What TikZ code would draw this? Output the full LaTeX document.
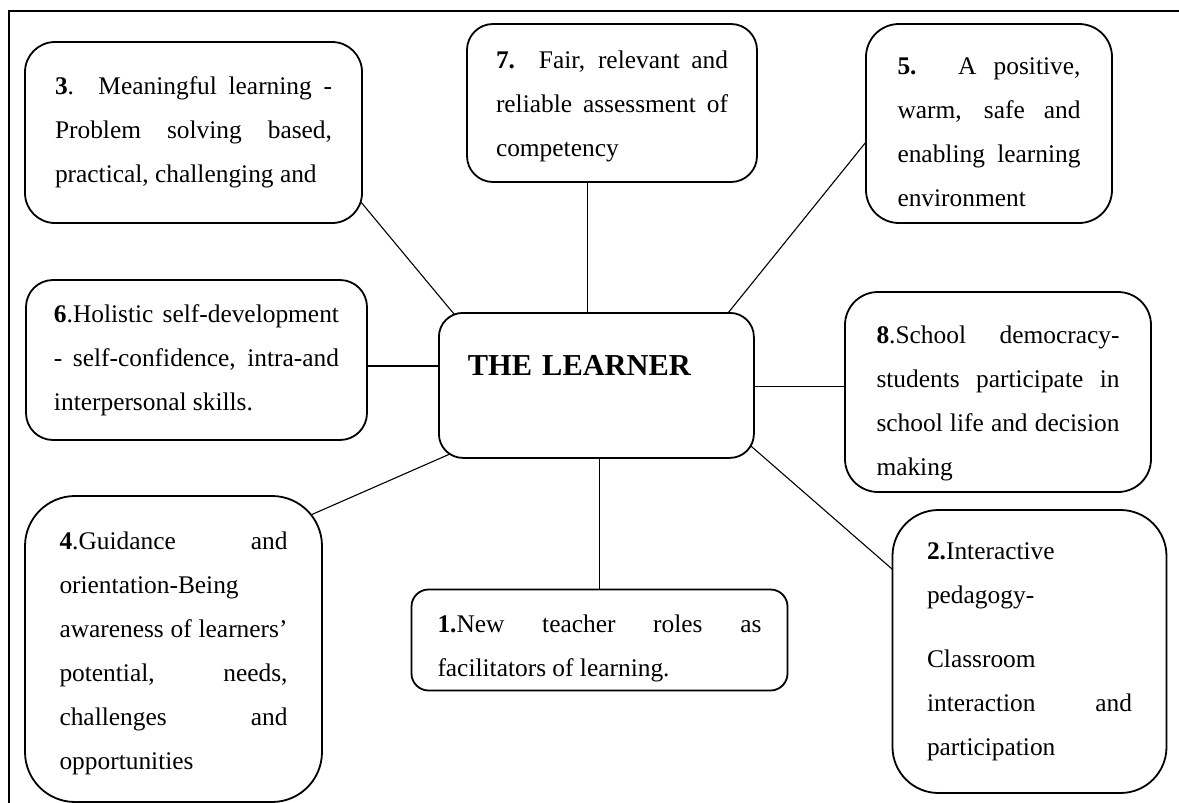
\documentclass[tikz,border=0pt]{standalone}
\usepackage{fontspec}
\setmainfont{Liberation Serif}
\usetikzlibrary{backgrounds}

\setlength{\parindent}{0pt}
\hyphenpenalty=10000
\exhyphenpenalty=10000

% strut that pushes a box's text down a little
\newcommand{\lowtext}[1]{\rule{0pt}{#1}}

\tikzset{
  box/.style={draw, line width=0.9pt, fill=white, align=justify,
    inner xsep=0pt, inner ysep=0pt, font=\fontsize{12.7}{22}\selectfont},
  link/.style={line width=0.55pt, shorten <=-6pt, shorten >=-6pt}
}

\begin{document}
\begin{tikzpicture}[x=0.5pt, y=-0.5pt]

  \useasboundingbox (0,0) rectangle (1179,803);

  % Page frame
  \draw[line width=0.7pt] (1179,11) -- (9,11) -- (9,803);

  % Centre
  \node[draw, line width=0.9pt, fill=white, rounded corners=12pt, anchor=north west,
    text width=128.5pt, inner xsep=14.5pt, inner ysep=0pt, text height=31.5pt,
    text depth=41pt, align=left, font=\fontsize{15.2}{18}\bfseries] (learner) at (438,312) {THE LEARNER};

  % Boxes round the centre
  \node[box, rounded corners=15pt, minimum width=168.5pt, minimum height=90.5pt, text width=138.5pt] (meaning) at (193.5,132.5)
    {\parfillskip=0pt \textbf{3}. Meaningful learning -\linebreak Problem solving based,\linebreak practical, challenging and};
  \node[box, rounded corners=13pt, minimum width=145pt, minimum height=79pt, text width=116pt] (assess) at (612,103)
    {\lowtext{12.5pt}\textbf{7.} Fair, relevant and\linebreak reliable assessment of\linebreak competency};
  \node[box, rounded corners=16.5pt, minimum width=123pt, minimum height=99.5pt, text width=91.5pt] (climate) at (989,123.5)
    {\lowtext{16.8pt}\textbf{5.} A positive,\linebreak warm, safe and\linebreak enabling learning\linebreak environment};
  \node[box, rounded corners=13.5pt, minimum width=170.5pt, minimum height=80pt, text width=142.5pt] (selfdev) at (196.5,360)
    {\textbf{6}.Holistic self-development\linebreak - self-confidence, intra-and\linebreak interpersonal skills.};
  \node[box, rounded corners=16.5pt, minimum width=153pt, minimum height=100pt, text width=121.5pt] (democ) at (998,392)
    {\lowtext{20.5pt}\textbf{8}.School democracy-\linebreak students participate in\linebreak school life and decision\linebreak making};
  \node[box, rounded corners=25pt, minimum width=148.5pt, minimum height=153pt, text width=114pt] (guide) at (173.5,649)
    {\lowtext{13.5pt}\textbf{4}.Guidance and\linebreak orientation-Being\\ awareness of learners'\linebreak potential, needs,\linebreak challenges and\linebreak opportunities};
  \node[box, rounded corners=8.5pt, minimum width=188pt, minimum height=50.5pt, text width=162pt] (teacher) at (599.5,640)
    {\lowtext{16.8pt}\textbf{1.}New teacher roles as\linebreak facilitators of learning.};
  \node[box, rounded corners=23pt, minimum width=137pt, minimum height=141.5pt, text width=102.5pt] (pedag) at (1029.5,651.5)
    {\textbf{2.}Interactive\\ pedagogy-\\[10pt] Classroom\\ interaction and\linebreak participation};

  % Links to the centre
  \begin{pgfonlayer}{background}
    \draw[link] (meaning.-23) -- (learner.153);
    \draw[link] (assess.-107) -- (assess.-107 |- learner.north);
    \draw[link] (climate.189) -- (learner.29);
    \draw[link] (selfdev.-2.85) -- (selfdev.-2.85 -| learner.west);
    \draw[link] (democ.178) -- (democ.178 -| learner.east);
    \draw[link] (guide.43) -- (learner.205);
    \draw[link] (teacher.north) -- (teacher.north |- learner.south);
    \draw[link] (learner.-22) -- (pedag.149);
  \end{pgfonlayer}

\end{tikzpicture}
\end{document}
